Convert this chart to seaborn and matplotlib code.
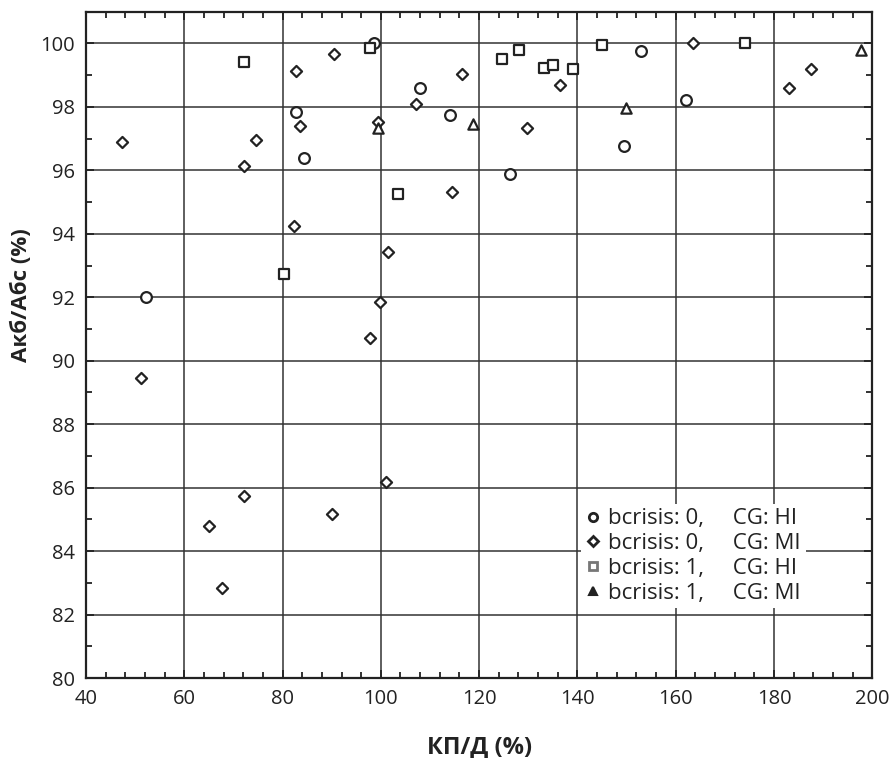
import numpy as np
import pandas as pd
import matplotlib
matplotlib.use("Agg")
import matplotlib.pyplot as plt
from matplotlib.lines import Line2D
from matplotlib.ticker import MultipleLocator
import seaborn as sns

# data: (КП/Д %, Акб/Абс %)
hi0_x = [52.2, 98.6, 82.7, 84.4, 107.9, 114.0, 126.2, 149.4, 153.0, 162.0]
hi0_y = [92.0, 100.0, 97.85, 96.4, 98.61, 97.73, 95.9, 96.78, 99.75, 98.23]

mi0_x = [47.4, 72.2, 74.7, 82.7, 83.6, 82.3, 90.5, 99.5, 107.1, 114.5, 101.5,
         99.85, 116.5, 136.4, 129.8, 163.6, 183.1, 187.6, 51.1, 65.0, 67.7,
         72.2, 90.1, 97.8, 101.1]
mi0_y = [96.9, 96.15, 96.97, 99.12, 97.41, 94.26, 99.68, 97.54, 98.1, 95.33, 93.44,
         91.86, 99.05, 98.68, 97.35, 100.0, 98.61, 99.18, 89.45, 84.8, 82.84,
         85.74, 85.17, 90.73, 86.18]

hi1_x = [72.2, 97.75, 80.3, 103.4, 124.6, 128.2, 133.2, 135.1, 139.2, 145.0, 174.2]
hi1_y = [99.43, 99.86, 92.74, 95.27, 99.5, 99.81, 99.24, 99.31, 99.18, 99.94, 100.0]

mi1_x = [99.5, 118.8, 149.8, 197.8]
mi1_y = [97.34, 97.45, 97.97, 99.79]

groups = ["bcrisis: 0,     CG: HI", "bcrisis: 0,     CG: MI",
          "bcrisis: 1,     CG: HI", "bcrisis: 1,     CG: MI"]

frames = []
for g, xs, ys in zip(groups, [hi0_x, mi0_x, hi1_x, mi1_x], [hi0_y, mi0_y, hi1_y, mi1_y]):
    frames.append(pd.DataFrame({"x": xs, "y": ys, "group": g}))
df = pd.concat(frames, ignore_index=True)

sns.set_style("ticks")
plt.rcParams["font.family"] = ["Open Sans", "DejaVu Sans"]

fig = plt.figure(figsize=(8.89, 7.58), dpi=100)
ax = fig.add_axes([0.0967, 0.1055, 0.8845, 0.879])

markers = {groups[0]: "o", groups[1]: "D", groups[2]: "s", groups[3]: "^"}
sizes = {groups[0]: 60, groups[1]: 32, groups[2]: 60, groups[3]: 55}
for g in groups:
    sub = df[df["group"] == g]
    sns.scatterplot(data=sub, x="x", y="y", marker=markers[g], s=sizes[g],
                    color="white", edgecolor="#222222", linewidth=1.6,
                    ax=ax, legend=False, zorder=3)

ax.set_xlim(40, 200)
ax.set_ylim(80, 101)
ax.xaxis.set_major_locator(MultipleLocator(20))
ax.xaxis.set_minor_locator(MultipleLocator(4))
ax.yaxis.set_major_locator(MultipleLocator(2))
ax.yaxis.set_minor_locator(MultipleLocator(1))
ax.grid(True, which="major", color="#333333", linewidth=1.1)
ax.set_axisbelow(True)
ax.tick_params(which="both", direction="in", top=True, right=True,
               labelsize=14.5, color="#222222", labelcolor="#222222")
ax.tick_params(which="major", length=6, width=1.3, pad=8)
ax.tick_params(which="minor", length=4, width=1.3)
for sp in ax.spines.values():
    sp.set_linewidth(1.6)
    sp.set_color("#222222")

ax.set_xlabel("КП/Д (%)", fontsize=17, fontweight="bold", labelpad=19, color="#222222")
ax.set_ylabel("Акб/Абс (%)", fontsize=16, fontweight="bold", color="#222222")
ax.yaxis.set_label_coords(-0.069, 0.574)

handles = [
    Line2D([], [], marker="o", linestyle="", markersize=6, markerfacecolor="white",
           markeredgecolor="#222222", markeredgewidth=2),
    Line2D([], [], marker="D", linestyle="", markersize=5, markerfacecolor="white",
           markeredgecolor="#222222", markeredgewidth=2),
    Line2D([], [], marker="s", linestyle="", markersize=6, markerfacecolor="white",
           markeredgecolor="#777777", markeredgewidth=2),
    Line2D([], [], marker="^", linestyle="", markersize=6, markerfacecolor="#222222",
           markeredgecolor="#222222", markeredgewidth=1.5),
]
leg = ax.legend(handles, groups, loc="upper left", bbox_to_anchor=(0.615, 0.278),
                frameon=True, fontsize=16, handlelength=0.7, handletextpad=0.35,
                labelspacing=0.17, borderpad=0.2, labelcolor="#222222")
leg.get_frame().set_facecolor("white")
leg.get_frame().set_edgecolor("none")
leg.get_frame().set_alpha(1)
leg.set_zorder(5)

fig.savefig("out.png", dpi=100)
